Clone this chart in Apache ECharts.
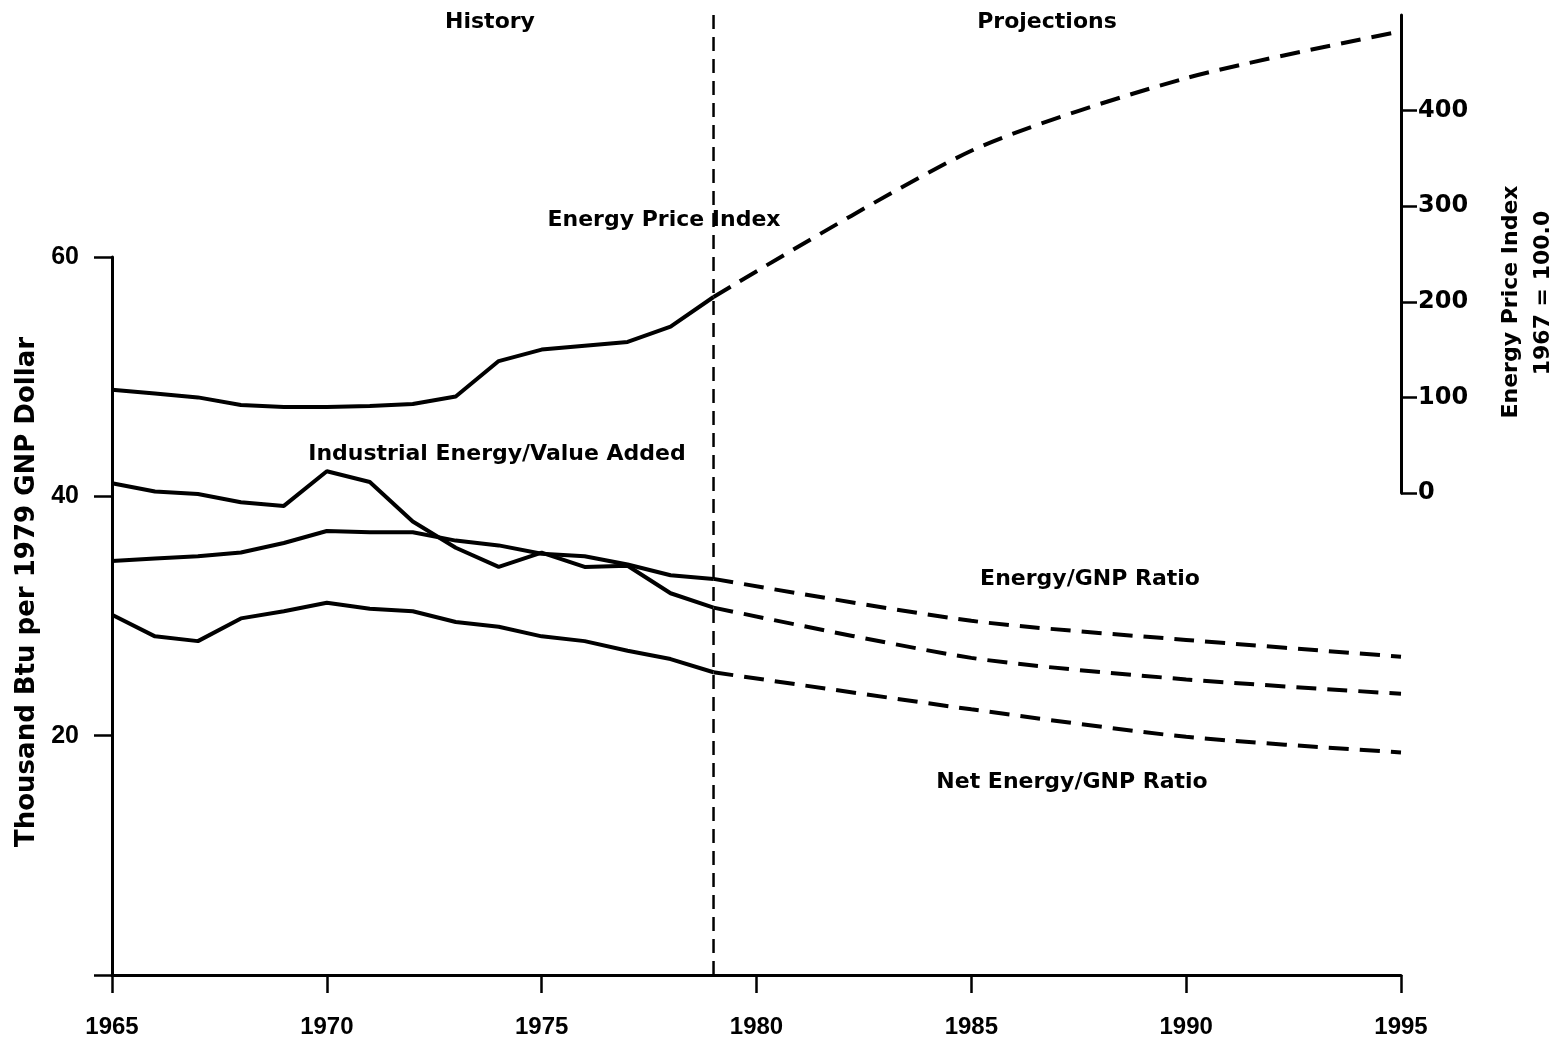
<!DOCTYPE html>
<html>
<head>
<meta charset="utf-8">
<title>Energy use per GNP dollar and energy prices, 1965-1995</title>
<script src="https://cdn.jsdelivr.net/npm/echarts@6/dist/echarts.min.js"></script>
<style>
  html, body { margin: 0; padding: 0; background: #fff; }
  #chart { width: 1559px; height: 1044px; }
</style>
</head>
<body>
<div id="chart"></div>
<script>
// years: history is yearly, projections only at a few points
const histYears = [1965, 1966, 1967, 1968, 1969, 1970, 1971, 1972, 1973, 1974, 1975, 1976, 1977, 1978, 1979]
const projYears = [1979, 1985, 1990, 1995]
const boundaryYear = 1979

// Energy Price Index, 1967 = 100.0 (right axis)
const priceHist = [108, 104, 100, 92, 90, 90, 91, 93, 101, 138, 150, 154, 158, 174, 205]
const priceProj = [205, 358, 434, 483]

// thousand Btu per 1979 GNP dollar (left axis)
const industryHist = [41.1, 40.4, 40.2, 39.5, 39.2, 42.1, 41.2, 37.9, 35.7, 34.1, 35.3, 34.1, 34.2, 31.9, 30.7]
const industryProj = [30.7, 26.5, 24.7, 23.5]
const gnpHist = [34.6, 34.8, 35.0, 35.3, 36.1, 37.1, 37.0, 37.0, 36.3, 35.9, 35.2, 35.0, 34.3, 33.4, 33.1]
const gnpProj = [33.1, 29.6, 28.0, 26.6]
const netHist = [30.1, 28.3, 27.9, 29.8, 30.4, 31.1, 30.6, 30.4, 29.5, 29.1, 28.3, 27.9, 27.1, 26.4, 25.3]
const netProj = [25.3, 22.2, 19.9, 18.6]

// axis ticks
const leftTicks = [0, 20, 40, 60]
const rightTicks = [0, 100, 200, 300, 400]

const INK = '#000'
const LABEL_FONT = 'bold 22px "DejaVu Sans"'

function pairs(xs, ys) {
  return xs.map((x, i) => [x, ys[i]])
}

// solid line for history, dashed for projections
function histSeries(name, ys, axis) {
  return {
    name: name,
    type: 'line',
    xAxisIndex: axis,
    yAxisIndex: axis,
    data: pairs(histYears, ys),
    showSymbol: false,
    silent: true,
    lineStyle: { color: INK, width: 4 },
  }
}
function projSeries(name, ys, axis) {
  return {
    name: name + ' (projection)',
    type: 'line',
    xAxisIndex: axis,
    yAxisIndex: axis,
    data: pairs(projYears, ys),
    showSymbol: false,
    silent: true,
    smooth: 0.25,
    lineStyle: { color: INK, width: 4, type: [20, 11] },
  }
}

function label(text, x, y) {
  return {
    type: 'text',
    x: x,
    y: y,
    silent: true,
    style: { text: text, fill: INK, font: LABEL_FONT, align: 'center', verticalAlign: 'middle' },
  }
}

const chart = echarts.init(document.getElementById('chart'))

const xBase = { type: 'value', min: 1965, max: 1995, interval: 5, splitLine: { show: false } }

const option = {
  backgroundColor: '#fff',
  animation: false,
  grid: [
    // left axis, 0..60
    { left: 112, right: 158, top: 257, bottom: 69 },
    // right axis, energy price index
    { left: 112, right: 158, top: 15, bottom: 551 },
    // full height, for the history / projections divider
    { left: 112, right: 158, top: 12, bottom: 69 },
  ],
  xAxis: [
    Object.assign({}, xBase, {
      gridIndex: 0,
      axisLine: { show: true, lineStyle: { color: INK, width: 3 } },
      axisTick: { show: true, length: 18, lineStyle: { color: INK, width: 2.5 } },
      axisLabel: {
        formatter: v => String(v),
        color: INK, fontFamily: 'Liberation Sans', fontWeight: 'bold', fontSize: 24, margin: 40,
      },
    }),
    Object.assign({}, xBase, { gridIndex: 1, show: false }),
    Object.assign({}, xBase, { gridIndex: 2, show: false }),
  ],
  yAxis: [
    {
      gridIndex: 0,
      type: 'value',
      min: 0,
      max: 60,
      interval: 20,
      splitLine: { show: false },
      axisLine: { show: true, lineStyle: { color: INK, width: 3 } },
      axisTick: { show: true, length: 18, customValues: leftTicks, lineStyle: { color: INK, width: 2.5 } },
      axisLabel: {
        customValues: leftTicks.slice(1),
        formatter: v => (v === 0 ? '' : String(v)),
        color: INK, fontFamily: 'Liberation Sans', fontWeight: 'bold', fontSize: 25, margin: 33,
      },
    },
    {
      gridIndex: 1,
      type: 'value',
      position: 'right',
      min: 0,
      max: 500,
      interval: 100,
      splitLine: { show: false },
      axisLine: { show: true, lineStyle: { color: INK, width: 3 } },
      axisTick: { show: true, length: 16, customValues: rightTicks, lineStyle: { color: INK, width: 2.5 } },
      axisLabel: {
        customValues: rightTicks,
        formatter: v => (v > 400 ? '' : String(v)),
        color: INK, fontFamily: 'DejaVu Sans', fontWeight: 'bold', fontSize: 24, margin: 17,
      },
    },
    { gridIndex: 2, type: 'value', min: 0, max: 1, show: false },
  ],
  graphic: [
    label('History', 490, 22),
    label('Projections', 1047, 22),
    label('Energy Price Index', 664, 220),
    label('Industrial Energy/Value Added', 497, 454),
    label('Energy/GNP Ratio', 1090, 579),
    label('Net Energy/GNP Ratio', 1072, 782),
    {
      type: 'text', x: 27, y: 592, rotation: Math.PI / 2, silent: true,
      style: {
        text: 'Thousand Btu per 1979 GNP Dollar', fill: INK, font: 'bold 26px "DejaVu Sans"',
        align: 'center', verticalAlign: 'middle',
      },
    },
    {
      type: 'text', x: 1511, y: 302, rotation: Math.PI / 2, silent: true,
      style: { text: 'Energy Price Index', fill: INK, font: LABEL_FONT, align: 'center', verticalAlign: 'middle' },
    },
    {
      type: 'text', x: 1543, y: 293, rotation: Math.PI / 2, silent: true,
      style: { text: '1967 = 100.0', fill: INK, font: LABEL_FONT, align: 'center', verticalAlign: 'middle' },
    },
  ],
  series: [
    histSeries('Energy Price Index', priceHist, 1),
    projSeries('Energy Price Index', priceProj, 1),
    histSeries('Industrial Energy/Value Added', industryHist, 0),
    projSeries('Industrial Energy/Value Added', industryProj, 0),
    histSeries('Energy/GNP Ratio', gnpHist, 0),
    projSeries('Energy/GNP Ratio', gnpProj, 0),
    histSeries('Net Energy/GNP Ratio', netHist, 0),
    projSeries('Net Energy/GNP Ratio', netProj, 0),
    // history / projections divider
    {
      name: 'divider',
      type: 'line',
      xAxisIndex: 2,
      yAxisIndex: 2,
      data: [[boundaryYear, 0], [boundaryYear, 1]],
      showSymbol: false,
      silent: true,
      lineStyle: { color: INK, width: 2.5, type: [14, 8] },
    },
  ],
}

chart.setOption(option)
</script>
</body>
</html>
